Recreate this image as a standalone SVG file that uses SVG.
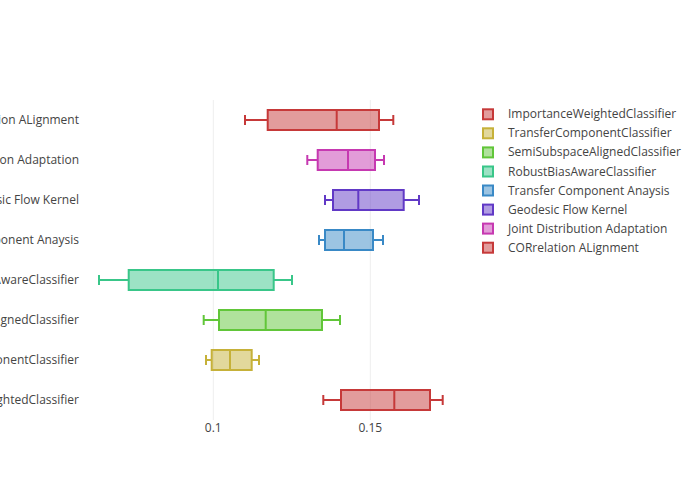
<svg xmlns="http://www.w3.org/2000/svg" width="700" height="500" viewBox="0 0 700 500">
<style>
text{font-family:"Open Sans","Noto Sans","DejaVu Sans",sans-serif;font-size:12px;fill:#444}
.ylab{text-anchor:end}
.tick{text-anchor:middle}
.grid{stroke:#eee;stroke-width:1}
.box{stroke-width:2;fill-opacity:0.5}
.wh{stroke-width:2;fill:none}
.c0{stroke:hsl(0,55%,50%);fill:hsl(0,55%,50%)}
.c1{stroke:hsl(51,55%,50%);fill:hsl(51,55%,50%)}
.c2{stroke:hsl(103,55%,50%);fill:hsl(103,55%,50%)}
.c3{stroke:hsl(154,55%,50%);fill:hsl(154,55%,50%)}
.c4{stroke:hsl(206,55%,50%);fill:hsl(206,55%,50%)}
.c5{stroke:hsl(257,55%,50%);fill:hsl(257,55%,50%)}
.c6{stroke:hsl(309,55%,50%);fill:hsl(309,55%,50%)}
.c7{stroke:hsl(360,55%,50%);fill:hsl(360,55%,50%)}
</style>
<rect width="700" height="500" fill="#fff"/>
<g id="grid">
<line class="grid" x1="213.3" y1="100" x2="213.3" y2="420"/>
<line class="grid" x1="370.3" y1="100" x2="370.3" y2="420"/>
</g>
<g id="xaxis">
<text class="tick" x="213.3" y="432">0.1</text>
<text class="tick" x="370.3" y="432">0.15</text>
</g>
<g id="yaxis">
<text class="ylab" x="79" y="124">CORrelation ALignment</text>
<text class="ylab" x="79" y="164">Joint Distribution Adaptation</text>
<text class="ylab" x="79" y="204">Geodesic Flow Kernel</text>
<text class="ylab" x="79" y="244">Transfer Component Anaysis</text>
<text class="ylab" x="79" y="284">RobustBiasAwareClassifier</text>
<text class="ylab" x="79" y="324">SemiSubspaceAlignedClassifier</text>
<text class="ylab" x="79" y="364">TransferComponentClassifier</text>
<text class="ylab" x="79" y="404">ImportanceWeightedClassifier</text>
</g>
<g id="ImportanceWeightedClassifier" class="c0">
<rect class="box" x="341" y="390" width="89" height="20"/>
<path class="wh" d="M394.3,390V410M323.3,400H341M430,400H442.7M323.3,395V405M442.7,395V405"/>
</g>
<g id="TransferComponentClassifier" class="c1">
<rect class="box" x="211.7" y="350" width="40" height="20"/>
<path class="wh" d="M230,350V370M206,360H211.7M251.7,360H259M206,355V365M259,355V365"/>
</g>
<g id="SemiSubspaceAlignedClassifier" class="c2">
<rect class="box" x="219" y="310" width="103" height="20"/>
<path class="wh" d="M265.7,310V330M203.7,320H219M322,320H340M203.7,315V325M340,315V325"/>
</g>
<g id="RobustBiasAwareClassifier" class="c3">
<rect class="box" x="128.7" y="270" width="145" height="20"/>
<path class="wh" d="M218,270V290M99,280H128.7M273.7,280H292M99,275V285M292,275V285"/>
</g>
<g id="TransferComponentAnaysis" class="c4">
<rect class="box" x="325" y="230" width="48" height="20"/>
<path class="wh" d="M344,230V250M319,240H325M373,240H383M319,235V245M383,235V245"/>
</g>
<g id="GeodesicFlowKernel" class="c5">
<rect class="box" x="333" y="190" width="70.7" height="20"/>
<path class="wh" d="M358.3,190V210M325,200H333M403.7,200H419M325,195V205M419,195V205"/>
</g>
<g id="JointDistributionAdaptation" class="c6">
<rect class="box" x="317.7" y="150" width="57.3" height="20"/>
<path class="wh" d="M348,150V170M307.3,160H317.7M375,160H384M307.3,155V165M384,155V165"/>
</g>
<g id="CORrelationALignment" class="c7">
<rect class="box" x="267.7" y="110" width="111.3" height="20"/>
<path class="wh" d="M336.7,110V130M245,120H267.7M379,120H393.3M245,115V125M393.3,115V125"/>
</g>
<g id="legend">
<rect class="box c0" x="483" y="109.3" width="10" height="10"/>
<text x="508" y="118.3">ImportanceWeightedClassifier</text>
<rect class="box c1" x="483" y="128.3" width="10" height="10"/>
<text x="508" y="137.3">TransferComponentClassifier</text>
<rect class="box c2" x="483" y="147.4" width="10" height="10"/>
<text x="508" y="156.4">SemiSubspaceAlignedClassifier</text>
<rect class="box c3" x="483" y="166.5" width="10" height="10"/>
<text x="508" y="175.5">RobustBiasAwareClassifier</text>
<rect class="box c4" x="483" y="185.5" width="10" height="10"/>
<text x="508" y="194.5">Transfer Component Anaysis</text>
<rect class="box c5" x="483" y="204.6" width="10" height="10"/>
<text x="508" y="213.6">Geodesic Flow Kernel</text>
<rect class="box c6" x="483" y="223.6" width="10" height="10"/>
<text x="508" y="232.6">Joint Distribution Adaptation</text>
<rect class="box c7" x="483" y="242.7" width="10" height="10"/>
<text x="508" y="251.7">CORrelation ALignment</text>
</g>
</svg>
